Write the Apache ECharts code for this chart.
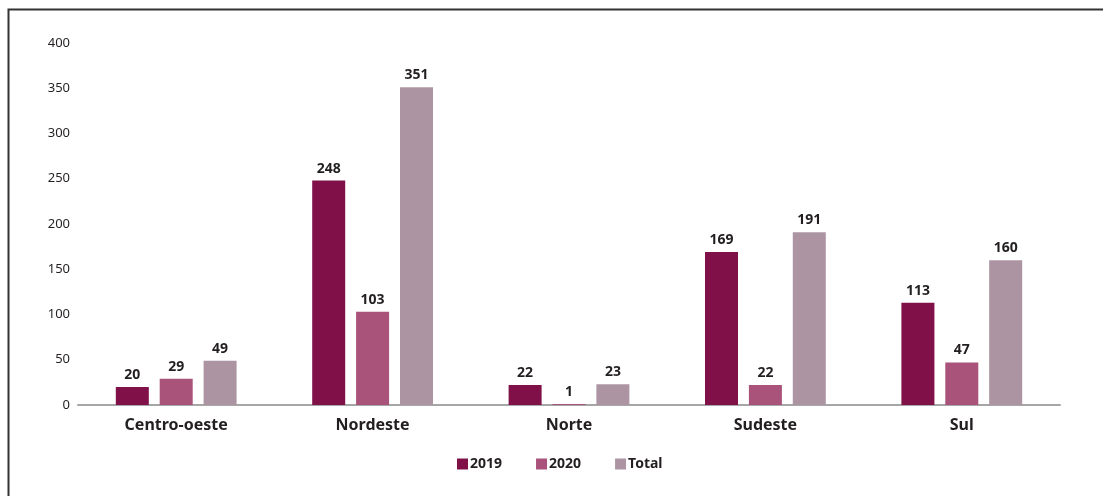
<!DOCTYPE html>
<html>
<head>
<meta charset="utf-8">
<script src="https://cdn.jsdelivr.net/npm/echarts@6/dist/echarts.min.js"></script>
<style>html,body{margin:0;padding:0;background:#fff;}#c{width:1103px;height:496px;}</style>
</head>
<body>
<div id="c"></div>
<script>
const categories = ['Centro-oeste', 'Nordeste', 'Norte', 'Sudeste', 'Sul'];
const seriesNames = ['2019', '2020', 'Total'];
const v2019 = [20, 248, 22, 169, 113];
const v2020 = [29, 103, 1, 22, 47];
const vTotal = [49, 351, 23, 191, 160];
const yTicks = [0, 50, 100, 150, 200, 250, 300, 350, 400];

const colors = ['#7f1048', '#a9527a', '#ac94a2'];
const font = '"Noto Sans", "Open Sans", sans-serif';
const chart = echarts.init(document.getElementById('c'));
const mk = (name, data, i) => ({
  name, type: 'bar', data,
  barWidth: 33, barGap: '33%',
  itemStyle: { color: colors[i] },
  label: { show: true, position: 'top', distance: 5, fontFamily: font, fontWeight: 'bold', fontSize: 14, color: '#231f20' }
});
chart.setOption({
  animation: false,
  textStyle: { fontFamily: font },
  graphic: [{ type: 'rect', shape: { x: 8.5, y: 9.5, width: 1110, height: 500 }, style: { fill: 'none', stroke: '#333', lineWidth: 2 } }],
  grid: { left: 78, right: 43, top: 43, bottom: 91 },
  legend: {
    data: seriesNames, bottom: 20, left: 452, itemWidth: 11, itemHeight: 11, itemGap: 34,
    icon: 'rect', textStyle: { fontFamily: font, fontWeight: 'bold', fontSize: 14, color: '#231f20', padding: [0,0,0,-3] }
  },
  xAxis: {
    type: 'category', data: categories,
    axisLine: { lineStyle: { color: '#a6a6a6', width: 2 } },
    axisTick: { show: false },
    axisLabel: { fontFamily: font, fontWeight: 'bold', fontSize: 16, color: '#231f20', margin: 12 }
  },
  yAxis: {
    type: 'value', min: yTicks[0], max: yTicks[yTicks.length-1], interval: 50,
    axisLine: { show: false }, axisTick: { show: false }, splitLine: { show: false },
    axisLabel: { fontFamily: font, fontSize: 13, color: '#231f20', margin: 8 }
  },
  series: [mk(seriesNames[0], v2019, 0), mk(seriesNames[1], v2020, 1), mk(seriesNames[2], vTotal, 2)]
});
</script>
</body>
</html>
